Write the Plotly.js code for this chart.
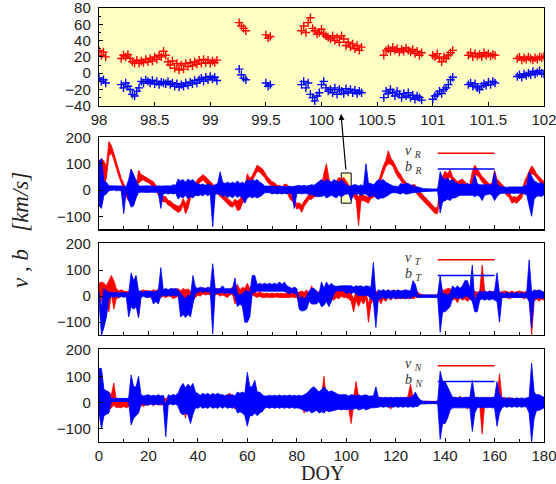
<!DOCTYPE html>
<html><head><meta charset="utf-8">
<script src="https://cdn.plot.ly/plotly-3.0.1.min.js"></script>
<style>html,body{margin:0;padding:0;background:#fff}#chart{width:556px;height:484px}</style>
</head><body><div id="chart"></div>
<script>
// ---- Top panel (DOY 98-102), samples every 0.02 day, grouped in data segments ----
const segStart = [98.00, 98.20, 99.26, 99.50, 99.82, 100.56, 101.00, 101.32, 101.76];
const cadence = 0.02;
const zoomRed = [
  [28,22,26,20],
  [18,22,20,23,18,14,12,16,12,15, 13,17,14,18,15,20,17,22,20,27, 22,14,10,15,6,12,4,10,5,12, 8,13,9,14,11,16,12,17,13,16, 12,15,13,16],
  [62,58,55,52],
  [47,43,45],
  [52,58,50,62,68,55,52,48,50,54, 48,46,44,42,46,40,44,38,46,42, 34,38,32,36,30,34,28,32],
  [22,28,30,27,32,28,30,26,29,27, 31,28,26,29,24,27,22,25],
  [22,20,24,18,14,20,18,22,25,28],
  [22,25,20,24,21,23,20,25,22,24,21,23,22],
  [18,20,16,19,17,20,18,16,19,17,20,19,21]
];
const zoomBlue = [
  [-6,-10,-8,-12],
  [-14,-18,-12,-16,-20,-26,-28,-22,-18,-10, -12,-8,-10,-12,-9,-13,-10,-14,-11,-12, -13,-10,-14,-12,-16,-13,-17,-14,-16,-12, -15,-11,-13,-9,-12,-8,-6,-10,-5,-8, -4,-7,-5,-9],
  [5,-2,-6,-8],
  [-12,-16,-14],
  [-14,-10,-18,-12,-26,-30,-34,-28,-24,-14, -10,-18,-22,-20,-24,-18,-26,-20,-22,-25, -19,-23,-20,-24,-21,-25,-22,-24],
  [-30,-22,-25,-20,-24,-28,-22,-26,-30,-25, -28,-24,-30,-27,-32,-28,-30,-33],
  [-32,-28,-26,-22,-25,-20,-18,-14,-8,-5],
  [-14,-12,-16,-13,-18,-20,-16,-13,-15,-11,-14,-10,-12],
  [-4,-2,-5,-1,-3,0,-2,2,-1,1,3,0,-1]
];
const topTicks = [98, 98.5, 99, 99.5, 100, 100.5, 101, 101.5, 102];

// ---- Daily maxima / minima, DOY 0..180 ----
const vR_hi = [40,120,110,90,185,170,140,105,70,45,
25,5,-15,80,25,15,75,60,55,50,
45,38,32,18,0,-15,-25,-25,-40,-42,
-52,-58,-62,-58,-32,-52,-35,-5,18,25,
42,50,58,52,42,32,22,12,5,-5,
-15,-25,-32,-42,-48,-35,-42,-35,-15,15,
62,45,55,75,95,88,82,68,52,42,
32,28,18,18,12,22,22,-2,-22,-32,
-52,-48,-58,-42,-28,-15,-15,-5,-5,5,
15,65,100,45,15,22,32,48,42,48,
32,20,-5,-5,-15,-25,-15,-20,-25,-28,
-10,-5,20,30,62,92,112,150,122,110,
92,72,60,42,32,22,12,22,18,2,
-8,-18,-25,-38,-48,-58,-68,-65,35,52,
72,62,78,52,42,32,38,42,32,22,
22,70,95,80,70,52,42,32,22,28,
75,42,32,22,12,2,-8,-28,-25,-28,
-18,-8,30,52,72,92,80,62,52,42,32];
const vR_lo = [-60,-60,20,45,130,140,115,85,52,28,
5,-25,-42,-50,-55,-18,25,35,38,32,
28,20,12,-2,-20,-35,-45,-45,-58,-62,
-72,-78,-85,-80,-55,-90,-70,-32,-5,8,
22,30,38,32,22,12,2,-8,-15,-25,
-35,-45,-52,-62,-65,-55,-78,-75,-50,-40,
0,22,35,52,72,68,60,48,32,22,
12,8,-2,-2,-8,2,-2,-30,-42,-52,
-72,-68,-85,-62,-48,-35,-35,-25,-25,-15,
-8,20,40,10,-8,2,10,25,20,25,
10,-2,-30,-25,-40,-135,-40,-40,-45,-50,
-32,-28,0,10,38,65,88,100,98,88,
65,48,38,20,10,0,-10,0,-5,-20,
-30,-40,-48,-60,-70,-80,-90,-88,-20,25,
45,38,52,32,20,10,15,20,10,0,
0,30,60,55,45,30,20,10,0,5,
40,18,10,0,-10,-20,-30,-50,-45,-50,
-40,-30,5,30,50,62,58,42,32,22,10];
const bR_hi = [110,120,35,30,16,16,15,16,15,16,
15,12,40,80,60,40,16,15,16,15,
16,15,16,14,16,15,16,15,16,15,
20,18,42,35,40,30,42,35,40,30,
23,20,23,18,23,20,15,20,25,70,
30,25,30,25,30,25,35,25,30,25,
40,35,40,35,40,30,25,15,15,15,
13,15,12,15,13,15,12,15,13,15,
15,18,15,18,15,18,20,18,25,30,
40,30,40,35,30,40,35,30,40,30,
20,15,15,20,20,15,20,15,100,25,
25,20,30,40,35,40,30,25,20,15,
15,12,25,20,25,25,20,15,12,12,
8,6,5,4,4,4,4,5,70,45,
40,45,35,40,30,25,20,25,20,25,
20,25,60,25,20,20,20,20,18,20,
70,25,15,12,12,10,12,12,10,12,
12,12,15,18,70,55,35,30,25,30,20];
const bR_lo = [-60,-70,-20,-15,-3,-3,0,-3,-2,-3,
-90,-5,-40,-65,-60,-30,-9,-8,-9,-8,
-9,-8,-9,-8,-9,-70,-15,-12,-15,-12,
-15,-12,-34,-25,-30,-20,-34,-25,-30,-20,
-22,-18,-22,-15,-22,-15,-140,-15,-15,-15,
-25,-20,-28,-22,-30,-20,-28,-22,-30,-50,
-30,-25,-30,-25,-30,-25,-20,-10,-10,-10,
-15,-12,-15,-12,-15,-12,-15,-12,-15,-70,
-15,-12,-15,-12,-15,-15,-18,-20,-25,-25,
-25,-20,-30,-25,-20,-25,-30,-20,-25,-20,
-15,-15,-40,-15,-15,-15,-20,-15,-15,-25,
-25,-20,-30,-35,-30,-30,-25,-20,-12,-10,
-10,-12,-15,-10,-15,-15,-12,-10,-10,-8,
-8,-6,-5,-4,-4,-4,-4,-5,-87,-45,
-40,-35,-40,-30,-30,-25,-20,-20,-20,-20,
-20,-20,-25,-20,-25,-40,-20,-18,-15,-20,
-40,-25,-15,-12,-12,-10,-12,-12,-10,-12,
-12,-12,-15,-18,-60,-100,-35,-25,-22,-25,-18];
const vT_hi = [50,55,50,40,60,80,60,30,20,25,
20,18,20,25,20,10,15,20,25,20,
22,18,25,20,28,22,25,20,22,25,
28,25,30,20,30,25,28,20,15,25,
30,28,32,30,28,30,25,28,30,25,
28,25,22,28,35,30,45,25,35,30,
50,30,35,15,12,15,12,10,12,10,
12,10,12,10,12,10,12,10,12,10,
12,15,20,15,25,10,40,15,20,15,
30,25,30,20,25,20,25,22,30,25,
25,20,10,-10,20,0,10,0,15,-30,
10,25,20,15,10,25,15,20,10,25,
20,15,20,15,20,15,20,15,30,15,
8,5,5,5,5,5,5,5,50,20,
25,30,30,20,25,20,30,20,25,20,
20,15,20,15,20,120,20,15,20,18,
20,18,15,18,20,18,15,20,15,18,
20,18,15,20,25,10,20,22,15,20,15];
const vT_lo = [10,-20,-20,-30,-60,10,-50,-10,-5,0,
-2,0,-5,0,-5,-5,-82,0,5,0,
0,-5,0,-5,5,-5,0,-5,0,0,
-10,-5,0,-20,-10,-30,-10,-20,-15,-5,
5,0,10,5,8,5,0,5,8,0,
5,0,-5,5,8,-30,0,-20,0,-25,
10,0,5,0,-5,0,-5,-5,-3,-5,
-5,-5,-3,-5,-5,-7,-5,-5,-3,-5,
-5,-15,-5,-20,-20,-10,0,-10,-5,-20,
-10,-20,-10,-30,-10,-15,-5,-10,0,-5,
-5,-10,-20,-60,-15,-40,-15,-30,-10,-100,
-30,-15,-25,-10,-30,-10,-20,-5,-15,-5,
-10,-10,-5,-10,-5,-10,-5,-10,-5,-5,
0,0,0,0,0,0,0,0,-5,-20,
-10,-25,-5,-15,-10,-25,-5,-15,-10,-20,
-10,-5,-10,-5,-10,-10,-5,-10,-5,-5,
-5,-5,-10,-5,-5,-5,-10,-5,-5,-5,
-5,-5,-10,-5,-10,-150,-20,-10,-20,-10,-15];
const bT_hi = [20,-40,30,20,15,15,12,15,12,15,
12,15,10,90,60,80,20,20,15,20,
18,20,15,20,20,110,25,30,25,30,
28,30,25,10,0,-10,5,0,80,35,
30,35,32,30,35,32,125,30,28,30,
40,28,30,28,30,70,10,5,10,20,
20,15,80,80,45,50,45,50,45,50,
45,50,45,55,45,55,40,35,30,35,
30,-10,0,-10,0,20,30,30,20,10,
55,30,55,40,50,40,38,40,40,40,
40,38,40,35,40,38,40,35,40,38,
35,130,0,25,20,25,20,25,20,22,
20,25,20,22,25,22,20,60,45,5,
5,5,5,5,5,5,5,5,80,10,
10,5,10,40,30,40,30,40,60,60,
30,120,-20,10,20,15,20,15,20,15,
20,90,10,15,10,15,10,15,10,15,
10,15,10,15,140,15,25,20,25,20,15];
const bT_lo = [-20,-150,-120,-80,-10,0,-5,0,-5,0,
-5,0,-80,-40,-50,-40,-82,-5,0,-5,
-5,0,-30,-20,-30,0,5,0,5,0,
5,0,5,-80,-70,-82,-70,-80,-30,10,
15,20,15,20,15,18,-145,15,10,12,
15,10,15,10,12,0,-40,-30,-40,-100,
-100,-80,10,15,20,18,20,18,20,18,
20,18,20,18,20,18,15,10,15,10,
10,-50,-57,-55,-50,-20,-30,-30,-30,-20,
-40,-35,-20,-40,-20,10,20,20,20,20,
10,15,10,15,10,0,5,0,5,0,
-10,-20,-120,-10,-10,-5,-10,-5,-10,-5,
-10,-5,-10,-5,-10,-5,-10,0,0,-5,
-5,-5,-5,-5,-5,-5,-5,-5,-139,-60,
-60,-50,-40,-10,-5,-10,-5,-10,0,0,
-10,-20,-60,-60,-15,-10,-15,-10,-15,-10,
-15,-20,-100,-5,-5,-5,-5,-5,-5,-5,
-5,-5,-5,-5,-20,-120,-10,-10,-5,-10,-5];
const vN_hi = [50,60,50,40,40,30,75,10,5,8,
5,8,5,12,15,12,20,15,12,15,
15,18,15,20,15,18,20,15,20,25,
30,20,25,15,20,10,25,15,20,15,
20,25,15,20,15,20,15,20,10,15,
20,25,30,35,20,15,25,15,20,10,
30,35,20,30,15,35,20,15,20,15,
20,15,20,15,20,15,20,15,15,15,
15,15,10,5,15,10,20,15,15,15,
25,100,10,20,15,25,15,20,10,15,
20,10,0,20,80,20,10,25,10,20,
15,10,25,15,20,10,20,15,10,15,
15,20,15,20,15,25,70,20,15,20,
5,5,5,5,5,5,5,5,25,15,
20,15,20,15,20,15,25,15,20,10,
15,25,10,20,15,10,20,15,20,15,
20,15,110,15,20,15,20,10,15,10,
15,10,10,15,10,30,10,15,10,15,15];
const vN_lo = [-20,-60,-30,-40,-30,-20,-10,-20,-18,-20,
-15,-20,-15,-12,-10,-15,-5,-10,-15,-8,
-10,-5,-12,-5,-8,-10,-5,-10,-5,0,
5,-5,0,-15,-10,-60,-5,-25,-10,-10,
-5,0,-8,-5,-15,-5,-8,-5,-20,-10,
-5,0,5,5,-5,-25,-5,-10,-5,-20,
-10,0,-15,-5,-25,0,-10,-10,-5,-8,
-5,-10,-5,-8,-5,-10,-5,-8,-15,-5,
-10,-5,-15,-40,-10,-25,-5,-15,-10,-10,
0,10,-25,-10,-15,0,-10,-5,-15,-10,
-5,-25,-80,-10,10,-5,-25,0,-15,-5,
-10,-15,0,-10,-5,-15,-5,-10,-25,-5,
-10,-5,-15,0,-10,0,10,-5,-10,-5,
-5,0,-5,0,-5,0,-5,0,-5,-25,
-5,-15,-5,-10,-5,-15,0,-10,-5,-25,
-10,0,-25,-5,-10,-120,-5,-10,-5,-10,
-5,-10,20,-15,-5,-10,-5,-15,-5,-10,
-5,-10,-15,-5,-25,-10,-15,-5,-25,-10,-5];
const bN_hi = [130,130,50,45,40,16,16,16,16,16,
16,16,16,105,60,60,100,30,25,28,
30,25,28,25,30,25,28,-10,30,25,
30,28,35,60,73,55,70,60,73,40,
35,28,35,30,35,28,35,30,35,30,
30,25,30,28,30,25,40,35,40,35,
115,60,60,85,40,40,30,25,25,28,
25,28,25,29,25,28,25,29,25,28,
25,28,25,30,35,45,55,60,50,40,
50,60,50,40,45,40,35,30,30,30,
30,25,30,28,25,30,25,28,30,25,
25,25,60,20,20,18,20,18,20,18,
20,18,20,18,20,18,20,25,40,20,
10,5,5,4,4,4,4,5,120,80,
80,60,40,20,20,18,20,18,20,20,
20,85,20,20,18,20,18,20,18,20,
20,80,30,20,15,18,15,18,15,18,
15,18,15,18,20,150,40,30,30,25,20];
const bN_lo = [-40,-100,-50,-45,-40,4,4,4,4,4,
4,4,4,-85,-60,-50,-40,-9,-5,-9,
-9,-5,-9,-5,-9,-5,-9,-130,-9,-5,
-9,-5,-15,-40,-47,-40,-47,-80,-45,-20,
-22,-15,-22,-18,-22,-15,-22,-18,-22,-15,
-22,-15,-22,-18,-22,-15,-40,-35,-40,-50,
-90,-50,-50,-40,-50,-40,-35,-22,-18,-22,
-18,-22,-18,-22,-18,-22,-18,-22,-18,-22,
-20,-22,-25,-30,-35,-30,-40,-35,-30,-40,
-35,-40,-30,-35,-35,-30,-28,-25,-28,-25,
-28,-25,-28,-25,-22,-28,-25,-22,-28,-25,
-20,-20,-20,-18,-15,-18,-15,-18,-15,-18,
-15,-18,-15,-18,-15,-18,-15,-18,-15,-15,
-5,-5,-5,-4,-4,-4,-4,-5,-140,-80,
-80,-60,-30,-20,-20,-18,-20,-18,-20,-20,
-20,-110,-40,-20,-18,-20,-18,-20,-18,-20,
-20,-90,-40,-20,-15,-18,-15,-18,-15,-18,
-15,-18,-15,-18,-40,-150,-60,-30,-30,-25,-20];
const compNames = ['R', 'T', 'N'];

// ---- build ----
function expand(starts, segs) {
  const x = [], y = [];
  segs.forEach((s, i) => {
    s.forEach((v, j) => { x.push(+(starts[i] + j * cadence).toFixed(2)); y.push(v); });
    x.push(null); y.push(null);
  });
  return {x, y};
}
// closed band: daily maxima forward, daily minima backward
function band(hi, lo) {
  const days = hi.map((_, d) => d);
  return {x: days.concat(days.slice().reverse()), y: hi.concat(lo.slice().reverse())};
}
const RED = '#ff0000', BLUE = '#0000ff';
const zr = expand(segStart, zoomRed), zb = expand(segStart, zoomBlue);

const traces = [
  {x: zr.x, y: zr.y, xaxis: 'x', yaxis: 'y', mode: 'markers', type: 'scatter',
   marker: {symbol: 'cross-thin-open', size: 6, color: RED, line: {width: 1.4, color: RED}}},
  {x: zb.x, y: zb.y, xaxis: 'x', yaxis: 'y', mode: 'markers', type: 'scatter',
   marker: {symbol: 'cross-thin-open', size: 6, color: BLUE, line: {width: 1.4, color: BLUE}}}
];
const pairs = [[vR_hi, vR_lo, bR_hi, bR_lo], [vT_hi, vT_lo, bT_hi, bT_lo], [vN_hi, vN_lo, bN_hi, bN_lo]];
pairs.forEach((p, k) => {
  const n = k + 2;
  const r = band(p[0], p[1]), b = band(p[2], p[3]);
  traces.push({x: r.x, y: r.y, xaxis: 'x' + n, yaxis: 'y' + n, mode: 'lines', type: 'scatter',
    fill: 'toself', fillcolor: RED, line: {color: RED, width: 0.8}});
  traces.push({x: b.x, y: b.y, xaxis: 'x' + n, yaxis: 'y' + n, mode: 'lines', type: 'scatter',
    fill: 'toself', fillcolor: BLUE, line: {color: BLUE, width: 0.8}});
});

const tickFont = {family: 'Liberation Sans, Arial, sans-serif', size: 15, color: '#222'};
const common = {showline: true, linecolor: '#000', linewidth: 1.2, mirror: true, ticks: 'inside',
  ticklen: 4, tickcolor: '#000', zeroline: false, showgrid: false, tickfont: tickFont,
  fixedrange: true, ticklabeloverflow: 'allow'};

const dom = [[0.7747, 1.0], [0.4897, 0.7034], [0.246, 0.4575], [0.0, 0.2138]];
const serif = 'Liberation Serif, Times New Roman, serif';
const layout = {
  width: 556, height: 484, showlegend: false,
  margin: {l: 99, r: 12, t: 8, b: 42},
  paper_bgcolor: '#fff', plot_bgcolor: 'rgba(0,0,0,0)',
  xaxis: Object.assign({}, common, {domain: [0, 1], anchor: 'y', range: [98, 102], tickvals: topTicks,
    ticktext: topTicks.map(String)}),
  yaxis: Object.assign({}, common, {domain: dom[0], anchor: 'x', range: [-40, 80], dtick: 20,
    ticklabelstandoff: 4, minor: {dtick: 10, ticks: 'inside', ticklen: 2, tickcolor: '#000'}}),
  shapes: [
    {type: 'rect', xref: 'x domain', yref: 'y domain', x0: 0, x1: 1, y0: 0, y1: 1,
     fillcolor: '#ffffc4', line: {width: 0}, layer: 'below'},
    {type: 'rect', xref: 'x2', yref: 'y2', x0: 98, x1: 102, y0: -50, y1: 65,
     fillcolor: '#ffffc4', line: {color: '#000', width: 1}, layer: 'below'}
  ],
  annotations: [
    {xref: 'paper', yref: 'paper', x: (341 - 99) / 445, y: (442 - 114) / 434, ax: 5, ay: 57,
     text: '', showarrow: true, arrowhead: 2, arrowsize: 1, arrowwidth: 1.2, arrowcolor: '#000'},
    {xref: 'paper', yref: 'paper', x: (20 - 99) / 445, y: (442 - 230) / 434, textangle: -90,
     xanchor: 'center', yanchor: 'middle',
     text: '<i>v , b\u00A0\u00A0\u00A0[km/s]</i>', showarrow: false,
     font: {family: serif, size: 23, color: '#222'}},
    {xref: 'paper', yref: 'paper', x: (322 - 99) / 445, y: (442 - 473) / 434,
     xanchor: 'center', yanchor: 'middle',
     text: 'DOY', showarrow: false,
     font: {family: serif, size: 20, color: '#222'}}
  ]
};
for (let n = 2; n <= 4; n++) {
  layout['xaxis' + n] = Object.assign({}, common, {domain: [0, 1], anchor: 'y' + n, range: [0, 180],
    dtick: 20, showticklabels: n === 4, minor: {dtick: 10, ticks: 'inside', ticklen: 3, tickcolor: '#000'}});
  layout['yaxis' + n] = Object.assign({}, common, {domain: dom[n - 1], anchor: 'x' + n, range: [-150, 203],
    tickvals: [-100, 0, 100, 200], ticklabelstandoff: 4});
  const c = compNames[n - 2];
  layout.shapes.push({type: 'line', xref: 'x' + n, yref: 'y' + n, x0: 137, x1: 160, y0: 140, y1: 140,
    line: {color: RED, width: 1.5}});
  layout.shapes.push({type: 'line', xref: 'x' + n, yref: 'y' + n, x0: 137, x1: 160, y0: 80, y1: 80,
    line: {color: BLUE, width: 1.5}});
  const lf = {family: serif, size: 14, color: '#333'};
  layout.annotations.push({xref: 'x' + n, yref: 'y' + n, x: 123, y: 145, xanchor: 'left', yanchor: 'middle',
    text: '<i>v</i> <sub><i>' + c + '</i></sub>', showarrow: false, font: lf});
  layout.annotations.push({xref: 'x' + n, yref: 'y' + n, x: 123, y: 84, xanchor: 'left', yanchor: 'middle',
    text: '<i>b</i> <sub><i>' + c + '</i></sub>', showarrow: false, font: lf});
}
Plotly.newPlot('chart', traces, layout, {displayModeBar: false, staticPlot: true});
</script></body></html>
